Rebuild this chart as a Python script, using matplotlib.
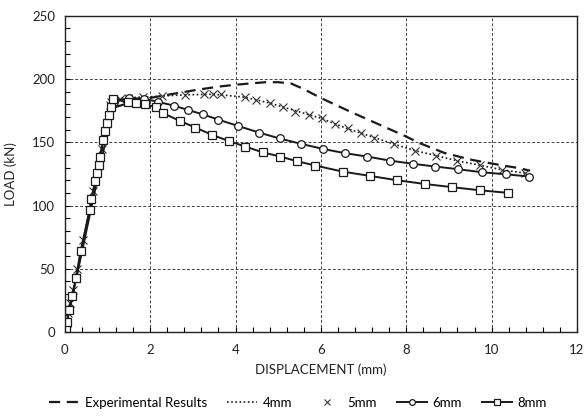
import matplotlib.pyplot as plt
from matplotlib.ticker import MultipleLocator

plt.rcParams['font.family'] = ['Lato', 'DejaVu Sans']

# experimental curve
exp_x = [0, 0.5, 1.0, 1.2, 1.75, 2.4, 3.1, 3.6, 4.0, 4.7, 5.0, 5.3, 5.6, 6.0, 6.7,
         7.3, 8.0, 8.3, 8.9, 9.55, 10.2, 10.65, 10.9]
exp_y = [0, 82, 168, 178, 183.5, 187.5, 191.5, 194, 195.5, 197.5, 197.5, 196.5, 192,
         185, 174, 165, 154.5, 149.5, 141.5, 136, 132, 129.5, 127.5]

# 4mm (dotted line)
x4 = [0, 0.5, 1.05, 1.3, 2.0, 2.8, 3.5, 4.2, 4.8, 5.4, 6.0, 6.6, 7.25, 7.7, 8.2,
      8.7, 9.2, 9.7, 10.25, 10.8]
y4 = [0, 82, 180, 185, 186, 187.5, 188, 185.7, 181, 175, 169, 161, 153.7, 148.7,
      143.4, 139.5, 135.3, 132, 128.2, 125.5]

# 5mm (crosses only)
x5 = [0, 0.02, 0.04, 0.08, 0.12, 0.19, 0.29, 0.43, 0.66, 0.86, 1.05, 1.09, 1.29,
      1.48, 1.83, 2.28, 2.81, 3.27, 3.47, 3.66, 4.21, 4.48, 4.80, 5.11, 5.40, 5.72,
      6.03, 6.32, 6.63, 6.94, 7.25, 7.72, 8.21, 8.69, 9.20, 9.72, 10.24, 10.78]
y5 = [0, 3, 6.9, 14.8, 22.7, 33, 49.6, 73, 111.5, 145, 179.6, 182, 184, 185, 185.7,
      186.7, 187.5, 188, 188, 188, 185.7, 183.5, 181, 177.8, 174.3, 171.7, 169,
      164.6, 161, 157, 153.7, 148.7, 143.4, 139.5, 135.3, 132, 128.2, 125.5]

# 6mm (circles)
x6 = [0, 1.15, 1.5, 1.85, 2.18, 2.55, 2.88, 3.24, 3.59, 4.05, 4.55, 5.03, 5.54,
      6.04, 6.56, 7.08, 7.62, 8.15, 8.68, 9.22, 9.77, 10.33, 10.88]
y6 = [0, 182, 185, 184.5, 182, 179, 175.6, 172, 168, 163, 157.7, 153, 148.7,
      144.8, 141.4, 138.7, 135.5, 133, 130.8, 128.7, 126.3, 124.7, 122.9]

# 8mm (squares)
x8 = [0, 0.02, 0.05, 0.1, 0.17, 0.26, 0.37, 0.58, 0.62, 0.71, 0.76, 0.80, 0.83,
      0.90, 0.95, 0.99, 1.03, 1.09, 1.13, 1.47, 1.66, 1.89, 2.13, 2.30, 2.69, 3.06,
      3.44, 3.84, 4.23, 4.64, 5.05, 5.44, 5.87, 6.51, 7.15, 7.78, 8.44, 9.08, 9.73,
      10.39]
y8 = [0, 3, 8, 17, 28.5, 42.7, 64, 96.5, 105, 119, 125.5, 132, 138.7, 152, 159,
      165, 171.7, 178, 184, 182, 181, 180, 177.8, 173, 167, 161.6, 156, 151, 146.6,
      142, 138.7, 135, 131.6, 126.8, 123.4, 120, 117, 114.5, 112, 110]

fig = plt.figure(figsize=(5.84, 4.16), dpi=100)
ax = fig.add_axes([0.111, 0.202, 0.877, 0.760])

ax.plot(exp_x, exp_y, color='#1a1a1a', lw=1.6, ls=(0, (5, 3)), label='Experimental Results')
ax.plot(x4, y4, color='#1a1a1a', lw=1.2, ls=(0, (1, 1.5)), label='4mm')
ax.plot(x5, y5, ls='none', marker='x', ms=5.5, mew=0.8, color='#333333', label='5mm')
ax.plot(x6, y6, color='#1a1a1a', lw=1.4, marker='o', ms=5.5, mfc='white', mec='#1a1a1a',
        mew=0.9, label='6mm')
ax.plot(x8, y8, color='#1a1a1a', lw=1.4, marker='s', ms=5.5, mfc='white', mec='#1a1a1a',
        mew=0.9, label='8mm')

ax.set_xlim(0, 12)
ax.set_ylim(0, 250)
ax.xaxis.set_major_locator(MultipleLocator(2))
ax.xaxis.set_minor_locator(MultipleLocator(0.4))
ax.yaxis.set_major_locator(MultipleLocator(50))
ax.yaxis.set_minor_locator(MultipleLocator(10))
ax.tick_params(which='both', direction='in', length=3.5, width=0.8, labelsize=9.5,
               labelcolor='#222222')
ax.tick_params(axis='x', pad=9)
ax.tick_params(axis='y', pad=7)
ax.grid(True, which='major', color='#444444', ls=(0, (3, 2)), lw=0.7)
for s in ax.spines.values():
    s.set_color('#222222')
    s.set_linewidth(1.0)

ax.set_xlabel('DISPLACEMENT (mm)', fontsize=9.5, labelpad=5, color='#222222')
ax.set_ylabel('LOAD (kN)', fontsize=9.5, labelpad=11, color='#222222')

fig.legend(loc='lower center', bbox_to_anchor=(0.51, -0.012), ncol=5, frameon=False,
           fontsize=9.5, handlelength=2.3, columnspacing=1.5, handletextpad=0.4,
           markerscale=0.75)

fig.savefig('out.png', dpi=100)
